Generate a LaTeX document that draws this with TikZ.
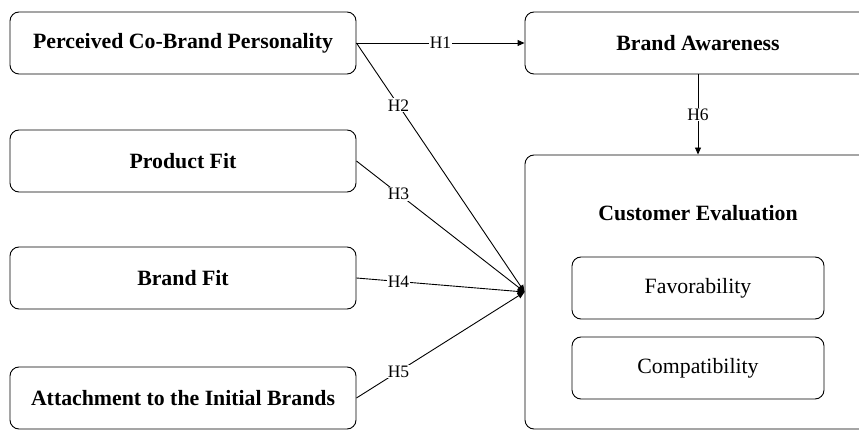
\documentclass[tikz,border=0pt]{standalone}
\usepackage{fontspec}
\setmainfont{Liberation Serif}
\usetikzlibrary{arrows.meta}
\begin{document}
\begin{tikzpicture}[x=1pt,y=-1pt,line join=round,>={Triangle[length=7pt,width=6pt]},line width=0.9pt]
    \tikzset{box/.style={draw,rounded corners=9pt,minimum width=346pt,minimum height=62pt,inner sep=0pt,font=\fontsize{21.8}{26}\selectfont\bfseries},
        item/.style={draw,rounded corners=9pt,minimum width=252pt,minimum height=62pt,inner sep=0pt,font=\fontsize{21.8}{26}\selectfont},
        hyp/.style={fill=white,inner sep=1pt,font=\fontsize{17.5}{21}\selectfont}}
    \useasboundingbox (0,0) rectangle (859,430);
    % left column
    \node[box] (pcp) at (183,43) {Perceived Co-Brand Personality};
    \node[box] (pf) at (183,161) {Product Fit};
    \node[box] (bf) at (183,278) {Brand Fit};
    \node[box] (att) at (183,398) {Attachment to the Initial Brands};
    % right column
    \node[box] (ba) at (698,43) {Brand Awareness};
    \node[box,minimum height=274pt] (ce) at (698,292) {};
    \node[font=\fontsize{21.8}{26}\selectfont\bfseries] (cet) at (698,213) {Customer Evaluation};
    \node[item] (fav) at (698,288) {Favorability};
    \node[item] (com) at (698,368) {Compatibility};
    % hypotheses
    \draw[->] (pcp) -- node[hyp] {H1} (ba);
    \foreach \a/\h in {pcp/H2,pf/H3,bf/H4,att/H5}
        \draw[->] (\a.east) -- node[hyp,pos=0.25] {\h} (ce.west);
    \draw[->] (ba) -- node[hyp] {H6} (ce);
\end{tikzpicture}
\end{document}
